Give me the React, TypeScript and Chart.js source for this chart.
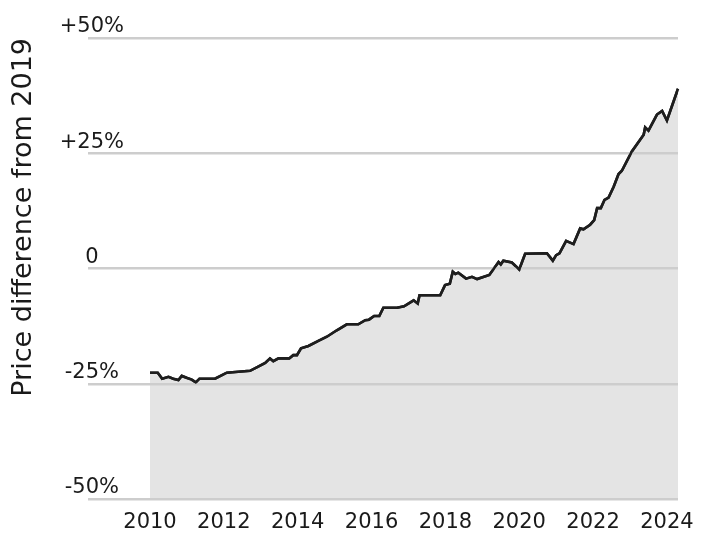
import { useEffect, useRef } from "react";
import { Chart, registerables } from "chart.js";

Chart.register(...registerables);

const yearPoints = [
  2010.0, 2010.21, 2010.33, 2010.5, 2010.63, 2010.77, 2010.86, 2010.99, 2011.13, 2011.24,
  2011.34, 2011.76, 2012.08, 2012.39, 2012.71, 2012.93, 2013.12, 2013.25, 2013.34, 2013.48,
  2013.77, 2013.88, 2013.98, 2014.09, 2014.29, 2014.56, 2014.79, 2015.06, 2015.33, 2015.64,
  2015.83, 2015.93, 2016.07, 2016.21, 2016.32, 2016.69, 2016.88, 2017.14, 2017.25, 2017.3,
  2017.86, 2017.99, 2018.12, 2018.2, 2018.27, 2018.35, 2018.56, 2018.72, 2018.86, 2019.19,
  2019.44, 2019.5, 2019.57, 2019.8, 2020.0, 2020.16, 2020.75, 2020.91, 2021.0, 2021.09,
  2021.27, 2021.47, 2021.65, 2021.74, 2021.92, 2022.03, 2022.11, 2022.21, 2022.31, 2022.42,
  2022.56, 2022.69, 2022.78, 2023.05, 2023.37, 2023.41, 2023.5, 2023.73, 2023.87, 2024.0,
  2024.3,
];

const priceDiff = [
  -22.6, -22.6, -23.9, -23.5, -23.9, -24.2, -23.3, -23.7, -24.1, -24.7,
  -23.9, -23.9, -22.6, -22.4, -22.2, -21.3, -20.5, -19.5, -20.1, -19.5,
  -19.5, -18.8, -18.8, -17.3, -16.8, -15.7, -14.8, -13.4, -12.1, -12.1,
  -11.2, -11.1, -10.3, -10.3, -8.5, -8.5, -8.2, -6.9, -7.6, -5.8,
  -5.8, -3.6, -3.3, -0.7, -1.2, -0.9, -2.2, -1.8, -2.3, -1.4,
  1.4, 0.9, 1.7, 1.3, -0.2, 3.2, 3.3, 1.7, 2.9, 3.3,
  6.0, 5.3, 8.7, 8.5, 9.5, 10.5, 13.1, 13.1, 14.9, 15.4,
  17.8, 20.5, 21.2, 25.4, 29.0, 30.6, 29.9, 33.4, 34.2, 32.1,
  39.0,
];

const yTickValues = [-50, -25, 0, 25, 50];
const xTickValues = [2010, 2012, 2014, 2016, 2018, 2020, 2022, 2024];
const yAxisTitle = "Price difference from 2019";

const FONT = "'DejaVu Sans', sans-serif";

export default function App() {
  const ref = useRef<HTMLCanvasElement | null>(null);

  useEffect(() => {
    document.body.style.margin = "0";
    const canvas = ref.current;
    if (!canvas) return;

    const redrawLine = {
      id: "redrawLine",
      afterDraw(chart: any) {
        const meta = chart.getDatasetMeta(0);
        if (meta && meta.dataset) {
          const ctx = chart.ctx;
          ctx.save();
          meta.dataset.draw(ctx, chart.chartArea);
          ctx.restore();
        }
      },
    };

    const chart = new Chart(canvas, {
      type: "line",
      data: {
        datasets: [
          {
            data: yearPoints.map((x, i) => ({ x, y: priceDiff[i] })),
            borderColor: "#1e1e1e",
            borderWidth: 2.6,
            backgroundColor: "#e4e4e4",
            fill: "start",
            pointRadius: 0,
            tension: 0,
          },
        ],
      },
      options: {
        animation: false,
        responsive: false,
        layout: { padding: { top: 38, right: 29, bottom: 0, left: 0 } },
        plugins: { legend: { display: false }, tooltip: { enabled: false } },
        scales: {
          x: {
            type: "linear",
            min: 2010,
            max: 2024.3,
            border: { display: false },
            grid: { display: false, drawTicks: false },
            afterBuildTicks: (scale: any) => {
              scale.ticks = xTickValues.map((v) => ({ value: v }));
            },
            afterFit: (scale: any) => {
              scale.height = 47;
            },
            ticks: {
              autoSkip: false,
              maxRotation: 0,
              padding: 11,
              color: "#1a1a1a",
              font: { family: FONT, size: 21 },
              callback: (v: any) => String(v),
            },
          },
          y: {
            min: -50,
            max: 50,
            afterFit: (scale: any) => {
              scale.width = 150;
            },
            afterBuildTicks: (scale: any) => {
              scale.ticks = yTickValues.map((v) => ({ value: v }));
            },
            border: { display: false },
            grid: {
              color: "#cdcdcd",
              lineWidth: 2.5,
              drawTicks: true,
              tickLength: 62,
              tickColor: "#cdcdcd",
              tickWidth: 2.5,
              z: 1,
            },
            ticks: {
              crossAlign: "center",
              padding: -36,
              labelOffset: -11,
              color: "#1a1a1a",
              font: { family: FONT, size: 21 },
              callback: (v: any) => (v > 0 ? "+" + v + "%" : v === 0 ? "0" : v + "%"),
            },
            title: {
              display: true,
              text: yAxisTitle,
              align: "end",
              color: "#1a1a1a",
              font: { family: FONT, size: 27 },
              padding: { top: 8, bottom: 4 },
            },
          },
        },
      },
      plugins: [redrawLine],
    } as any);

    return () => chart.destroy();
  }, []);

  return (
    <div style={{ position: "absolute", left: 0, top: 0, width: 707, height: 546 }}>
      <canvas ref={ref} width={707} height={546} style={{ display: "block" }} />
    </div>
  );
}
